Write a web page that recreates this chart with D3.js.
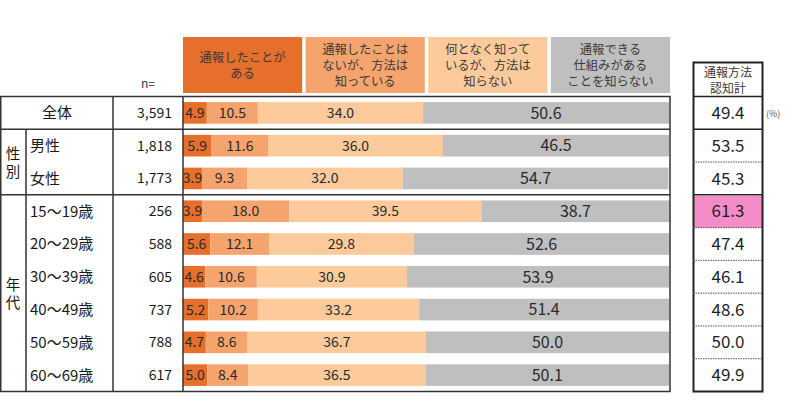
<!DOCTYPE html>
<html>
<head>
<meta charset="utf-8">
<script src="https://cdn.jsdelivr.net/npm/d3@7"></script>
<style>
  body { margin: 0; background: #fff; }
  svg { font-family: "Noto Sans CJK JP", "Noto Sans", sans-serif; }
</style>
</head>
<body>
<div id="chart"></div>
<script>
// data
const categories = ["全体", "男性", "女性", "15～19歳", "20～29歳", "30～39歳", "40～49歳", "50～59歳", "60～69歳"];
const nValues = ["3,591", "1,818", "1,773", "256", "588", "605", "737", "788", "617"];
const seriesNames = ["通報したことが|ある", "通報したことは|ないが、方法は|知っている", "何となく知って|いるが、方法は|知らない", "通報できる|仕組みがある|ことを知らない"];
const reported = [4.9, 5.9, 3.9, 3.9, 5.6, 4.6, 5.2, 4.7, 5.0];
const knowsHow = [10.5, 11.6, 9.3, 18.0, 12.1, 10.6, 10.2, 8.6, 8.4];
const vaguely = [34.0, 36.0, 32.0, 39.5, 29.8, 30.9, 33.2, 36.7, 36.5];
const unaware = [50.6, 46.5, 54.7, 38.7, 52.6, 53.9, 51.4, 50.0, 50.1];
const awareTotal = [49.4, 53.5, 45.3, 61.3, 47.4, 46.1, 48.6, 50.0, 49.9];
const groups = [
    { name: "性別", from: 1, to: 2 },
    { name: "年代", from: 3, to: 8 }
];

const width = 800, height = 417;
const colors = ["#e66f2c", "#f5a46d", "#fdcb9b", "#bfbfbf"];

const svg = d3.select("#chart").append("svg")
    .attr("width", width)
    .attr("height", height);

const x = d3.scaleLinear().domain([0, 100]).range([183, 669]);
const y = d3.scaleBand().domain(categories).range([96.5, 391.5]).paddingInner(0.34).paddingOuter(0.17);
const rowTop = i => 96.5 + i * y.step();

const rows = categories.map((c, i) => ({
    cat: c, s0: reported[i], s1: knowsHow[i], s2: vaguely[i], s3: unaware[i]
}));
const stack = d3.stack().keys(["s0", "s1", "s2", "s3"])(rows);

// multi-line text as one element with tspans
function multiline(g, str, cx, cy, lh, size, fill) {
    const parts = str.split("|");
    const t = g.append("text")
        .attr("text-anchor", "middle")
        .attr("font-size", size)
        .attr("fill", fill);
    parts.forEach((p, j) => {
        t.append("tspan")
            .attr("x", cx)
            .attr("y", cy + (j - (parts.length - 1) / 2) * lh)
            .attr("dy", "0.35em")
            .text(p);
    });
}

// header boxes
const hx = d3.scaleBand().domain(d3.range(4)).range([183, 670]).paddingInner(0.028);
const header = svg.append("g");
seriesNames.forEach((s, i) => {
    header.append("rect")
        .attr("x", hx(i)).attr("y", 37)
        .attr("width", hx.bandwidth()).attr("height", 56)
        .attr("fill", colors[i]);
    multiline(header, s, hx(i) + hx.bandwidth() / 2, 65.5, 16.3, 12.3, "#3a3a3a");
});

// bars
svg.append("defs").append("clipPath").attr("id", "barclip")
    .append("rect").attr("x", 183).attr("y", 90).attr("width", 490).attr("height", 310);

const barG = svg.append("g");
stack.forEach((layer, k) => {
    barG.selectAll(null).data(layer).join("rect")
        .attr("x", d => x(d[0]))
        .attr("y", d => y(d.data.cat))
        .attr("width", d => x(d[1]) - x(d[0]))
        .attr("height", y.bandwidth())
        .attr("fill", colors[k]);
    barG.append("g").attr("clip-path", "url(#barclip)")
        .selectAll(null).data(layer).join("text")
        .attr("x", d => (x(d[0]) + x(d[1])) / 2)
        .attr("y", d => y(d.data.cat) + y.bandwidth() / 2)
        .attr("dy", "0.36em")
        .attr("text-anchor", "middle")
        .attr("font-size", k === 3 ? 16 : 14)
        .attr("fill", "#2a2a2a")
        .text(d => (d[1] - d[0]).toFixed(1));
});

// left table
const lines = svg.append("g").attr("stroke", "#333").attr("stroke-width", 1.5).attr("fill", "none");
lines.append("rect").attr("x", 0.75).attr("y", 96.5).attr("width", 670 - 0.75).attr("height", 295);
[183, 113].forEach(v => lines.append("line").attr("x1", v).attr("x2", v).attr("y1", 96.5).attr("y2", 391.5));
lines.append("line").attr("x1", 26).attr("x2", 26).attr("y1", rowTop(1)).attr("y2", 391.5);
[1, 3].forEach(i => lines.append("line").attr("x1", 0).attr("x2", 670).attr("y1", rowTop(i)).attr("y2", rowTop(i)));

const labelG = svg.append("g").attr("fill", "#1a1a1a");
categories.forEach((c, i) => {
    const cy = y(c) + y.bandwidth() / 2;
    labelG.append("text")
        .attr("x", i === 0 ? 57 : 30)
        .attr("y", cy).attr("dy", "0.36em")
        .attr("text-anchor", i === 0 ? "middle" : "start")
        .attr("font-size", 15)
        .text(c);
    labelG.append("text")
        .attr("x", 172).attr("y", cy).attr("dy", "0.36em")
        .attr("text-anchor", "end")
        .attr("font-size", 14)
        .text(nValues[i]);
});
// vertical group labels
groups.forEach(g => {
    const cy = (rowTop(g.from) + rowTop(g.to + 1)) / 2;
    labelG.append("text")
        .attr("x", 13).attr("y", cy + 1.75)
        .attr("writing-mode", "vertical-rl")
        .attr("text-anchor", "middle")
        .attr("letter-spacing", 3.5)
        .attr("font-size", 14.5)
        .text(g.name);
});
svg.append("text").attr("x", 148).attr("y", 88)
    .attr("text-anchor", "middle").attr("font-size", 12).attr("fill", "#333").text("n=");

// right column: awareness total
const right = svg.append("g");
right.append("rect").attr("x", 694).attr("y", 196).attr("width", 68).attr("height", y.step() - 1)
    .attr("fill", "#f48cc8");
right.append("rect").attr("x", 693.5).attr("y", 62.5).attr("width", 69).attr("height", 329)
    .attr("fill", "none").attr("stroke", "#222").attr("stroke-width", 2);
right.append("line").attr("x1", 693).attr("x2", 763).attr("y1", 96.5).attr("y2", 96.5)
    .attr("stroke", "#222").attr("stroke-width", 1.5);
categories.forEach((c, i) => {
    if (i > 0) {
        const solid = i === 1 || i === 3;
        right.append("line").attr("x1", 693).attr("x2", 763)
            .attr("y1", rowTop(i)).attr("y2", rowTop(i))
            .attr("stroke", solid ? "#222" : "#555")
            .attr("stroke-width", solid ? 1.5 : 1)
            .attr("stroke-dasharray", solid ? null : "1.5,1");
    }
    right.append("text")
        .attr("x", 728).attr("y", y(c) + y.bandwidth() / 2).attr("dy", "0.36em")
        .attr("text-anchor", "middle")
        .attr("font-size", 17)
        .attr("fill", "#1f1f2a")
        .text(awareTotal[i].toFixed(1));
});
multiline(right, "通報方法|認知計", 728, 81, 16.4, 12, "#3a3a3a");
svg.append("text").attr("x", 766).attr("y", 113.5).attr("dy", "0.36em")
    .attr("font-size", 9).attr("fill", "#555").text("(%)");
</script>
</body>
</html>
